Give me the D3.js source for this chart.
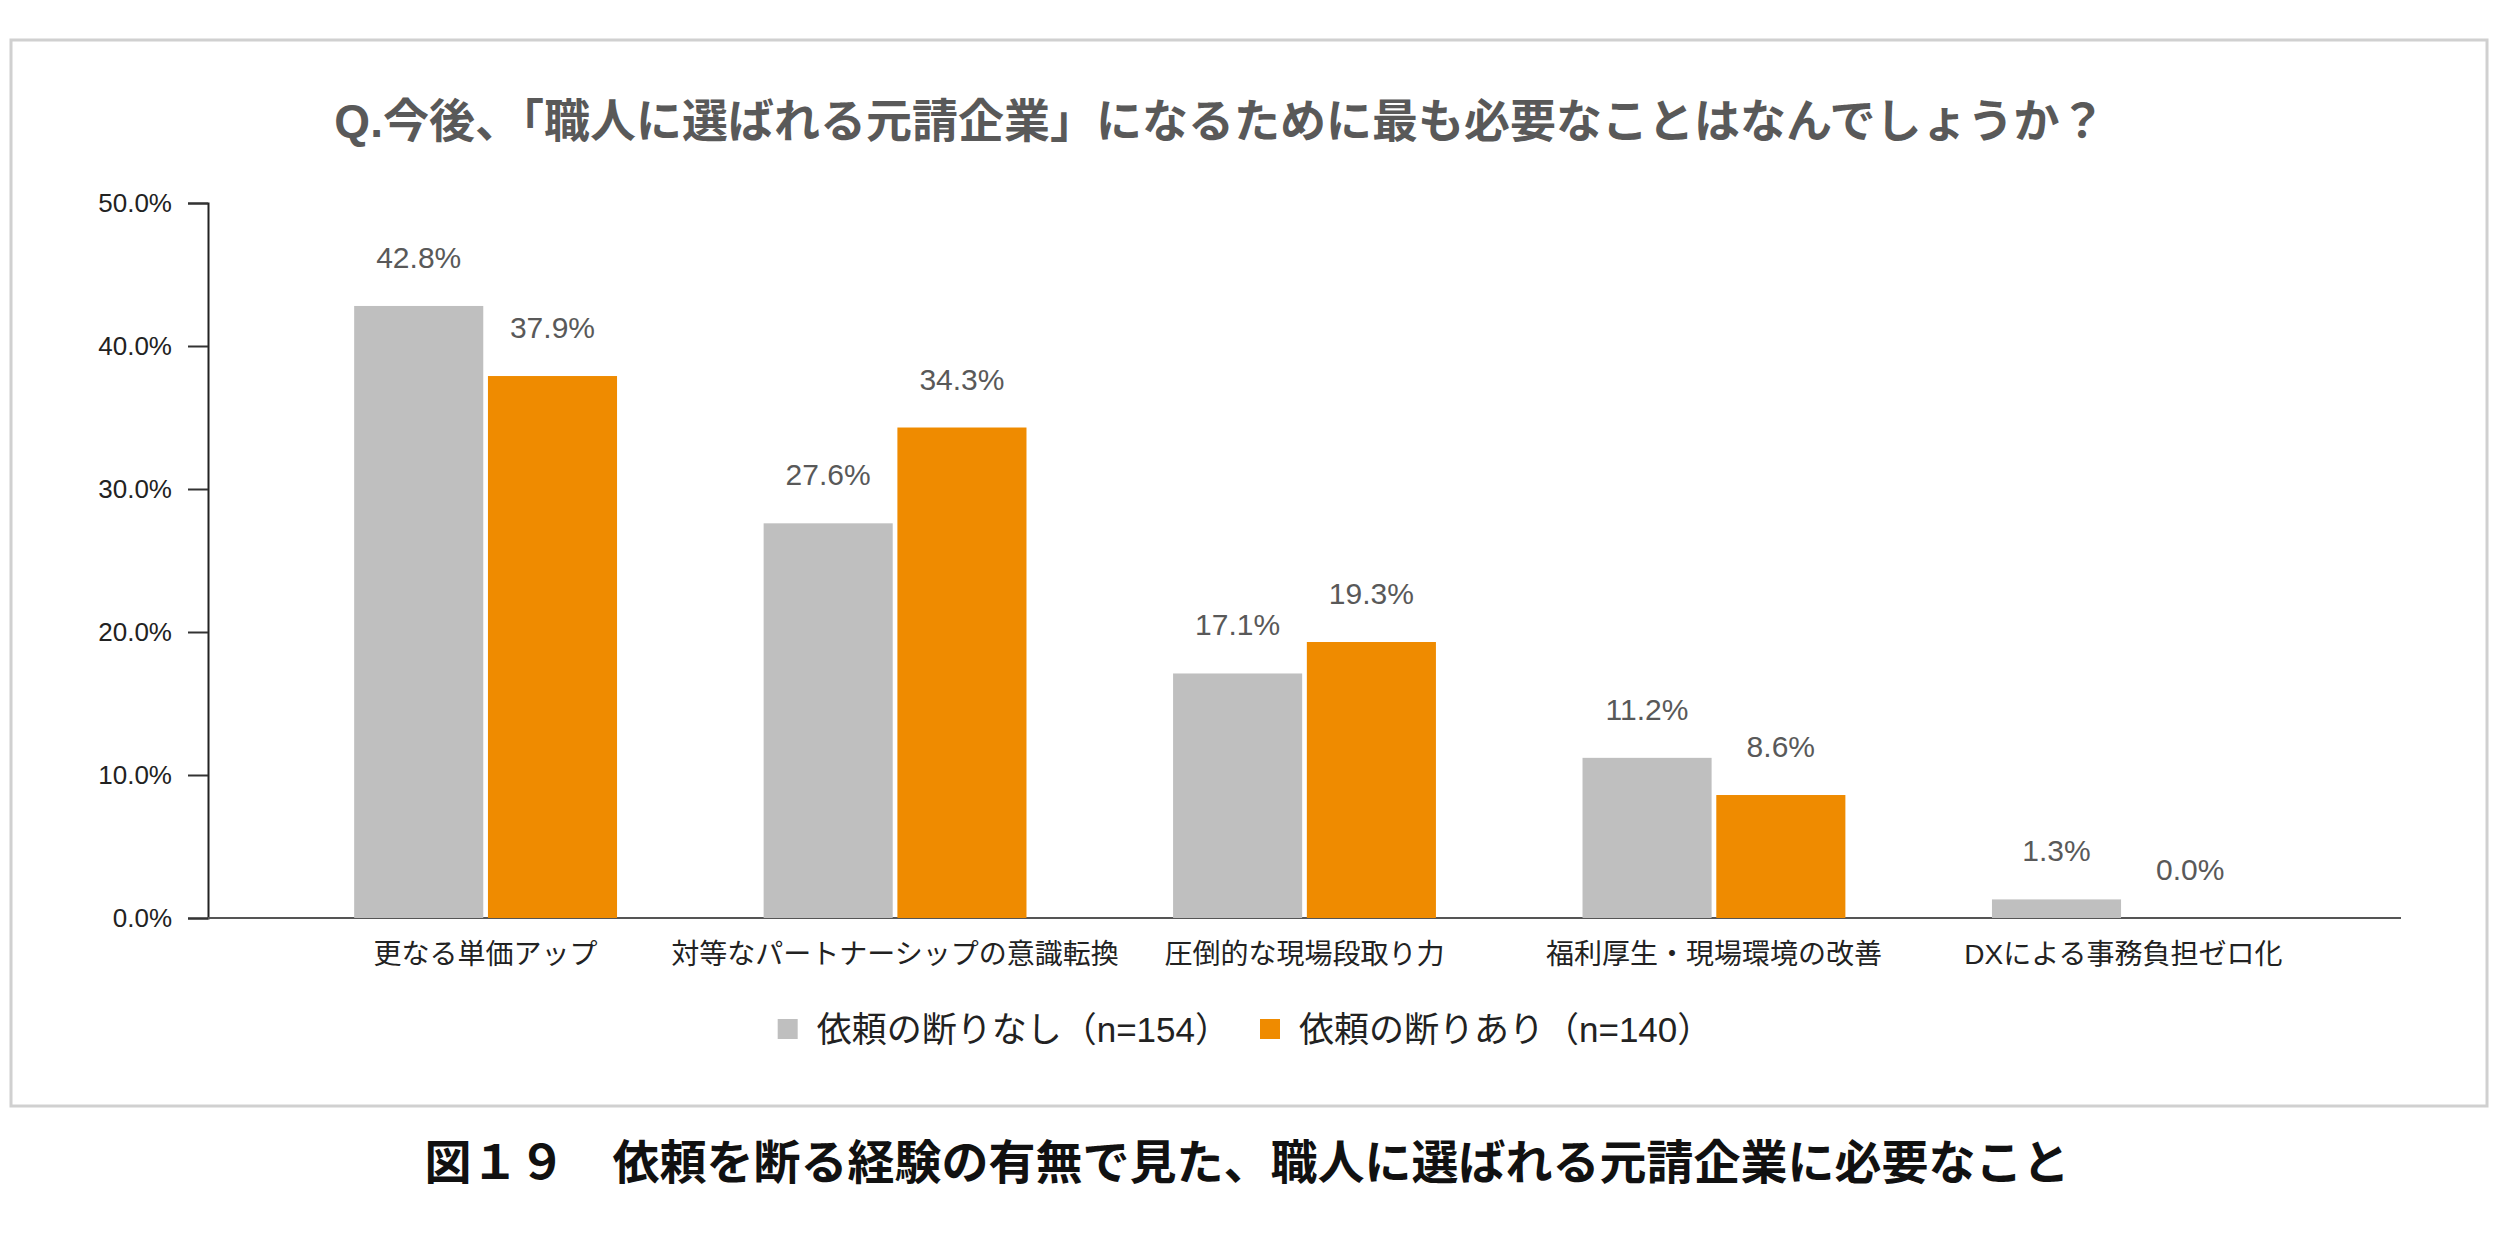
<!DOCTYPE html>
<html>
<head>
<meta charset="utf-8">
<script src="https://cdn.jsdelivr.net/npm/d3@7"></script>
<style>
  body { margin: 0; background: #fff; }
  text { font-family: "Liberation Sans", Arial, "Noto Sans CJK JP", sans-serif; }
</style>
</head>
<body>
<div id="chart"></div>
<script>
// data
var categories = ["更なる単価アップ", "対等なパートナーシップの意識転換", "圧倒的な現場段取り力", "福利厚生・現場環境の改善", "DXによる事務負担ゼロ化"];
var seriesNames = ["依頼の断りなし（n=154）", "依頼の断りあり（n=140）"];
var noRefusal = [42.8, 27.6, 17.1, 11.2, 1.3];
var withRefusal = [37.9, 34.3, 19.3, 8.6, 0.0];
var yTicks = [0, 10, 20, 30, 40, 50];
var colors = ["#bfbfbf", "#ef8b00"];

var svgWidth = 2500, svgHeight = 1235;

var svg = d3.select("#chart").append("svg")
  .attr("width", svgWidth)
  .attr("height", svgHeight);

// outer frame
svg.append("rect")
  .attr("x", 11).attr("y", 40)
  .attr("width", 2476).attr("height", 1066)
  .attr("fill", "#fff")
  .attr("stroke", "#d0d0d0")
  .attr("stroke-width", 3);

// title
svg.append("text")
  .attr("x", 1220).attr("y", 137)
  .attr("text-anchor", "middle")
  .attr("font-size", 46)
  .attr("font-weight", "bold")
  .attr("fill", "#595959")
  .text("Q.今後、「職人に選ばれる元請企業」になるために最も必要なことはなんでしょうか？");

// scales
var x0 = d3.scaleBand()
  .domain(categories)
  .range([208, 2401])
  .paddingInner(0.358)
  .paddingOuter(0.357);

var x1 = d3.scaleBand()
  .domain([0, 1])
  .range([0, x0.bandwidth()])
  .paddingInner(0.035);

var y = d3.scaleLinear()
  .domain([0, 50])
  .range([918, 203]);

// y axis
var leftAxis = d3.axisLeft(y)
  .tickValues(yTicks)
  .tickSize(20)
  .tickPadding(16)
  .tickFormat(d => d.toFixed(1) + "%");

var yAxisG = svg.append("g")
  .attr("transform", "translate(208,0)")
  .call(leftAxis);
yAxisG.select(".domain").attr("stroke", "#222").attr("stroke-width", 2);
yAxisG.selectAll(".tick line").attr("stroke", "#333").attr("stroke-width", 2);
yAxisG.selectAll(".tick text")
  .attr("font-size", 26)
  .attr("fill", "#222")
  .style("font-family", "'Liberation Sans', Arial, sans-serif");

// baseline
svg.append("line")
  .attr("x1", 208).attr("x2", 2401)
  .attr("y1", y(0)).attr("y2", y(0))
  .attr("stroke", "#555")
  .attr("stroke-width", 2);

// bars
var rows = categories.map((c, i) => ({ cat: c, values: [noRefusal[i], withRefusal[i]] }));

var groups = svg.selectAll("g.group")
  .data(rows)
  .enter().append("g")
  .attr("class", "group")
  .attr("transform", d => `translate(${x0(d.cat)},0)`);

groups.selectAll("rect")
  .data(d => d.values.map((v, k) => ({ k: k, v: v })))
  .enter().append("rect")
  .attr("x", d => x1(d.k))
  .attr("width", x1.bandwidth())
  .attr("y", d => y(d.v))
  .attr("height", d => y(0) - y(d.v))
  .attr("fill", d => colors[d.k]);

// value labels
groups.selectAll("text.val")
  .data(d => d.values.map((v, k) => ({ k: k, v: v })))
  .enter().append("text")
  .attr("class", "val")
  .attr("x", d => x1(d.k) + x1.bandwidth() / 2)
  .attr("y", d => y(d.v) - 38)
  .attr("text-anchor", "middle")
  .attr("font-size", 30)
  .attr("fill", "#595959")
  .text(d => d.v.toFixed(1) + "%");

// category labels
svg.selectAll("text.cat")
  .data(categories)
  .enter().append("text")
  .attr("class", "cat")
  .attr("x", d => x0(d) + x0.bandwidth() / 2)
  .attr("y", 964)
  .attr("text-anchor", "middle")
  .attr("font-size", 28)
  .attr("fill", "#222")
  .text(d => d);

// legend
var legend = svg.append("g");
var items = legend.selectAll("g")
  .data(seriesNames)
  .enter().append("g");
items.append("rect")
  .attr("width", 20).attr("height", 20)
  .attr("y", 1019)
  .attr("fill", (d, i) => colors[i]);
items.append("text")
  .attr("y", 1042)
  .attr("font-size", 35)
  .attr("fill", "#222")
  .text(d => d);

// lay out the legend centred under the plot
var widths = [];
items.select("text").each(function () { widths.push(this.getComputedTextLength()); });
var itemW = widths.map(w => 20 + 19 + w);
var gap = 30;
var total = d3.sum(itemW) + gap * (itemW.length - 1);
var start = 1245 - total / 2;
items.each(function (d, i) {
  var off = start + d3.sum(itemW.slice(0, i)) + gap * i;
  d3.select(this).select("rect").attr("x", off);
  d3.select(this).select("text").attr("x", off + 39);
});

// caption under the frame
svg.append("text")
  .attr("x", 1247).attr("y", 1179)
  .attr("text-anchor", "middle")
  .attr("font-size", 47)
  .attr("font-weight", "bold")
  .attr("fill", "#111")
  .text("図１９　依頼を断る経験の有無で見た、職人に選ばれる元請企業に必要なこと");
</script>
</body>
</html>
